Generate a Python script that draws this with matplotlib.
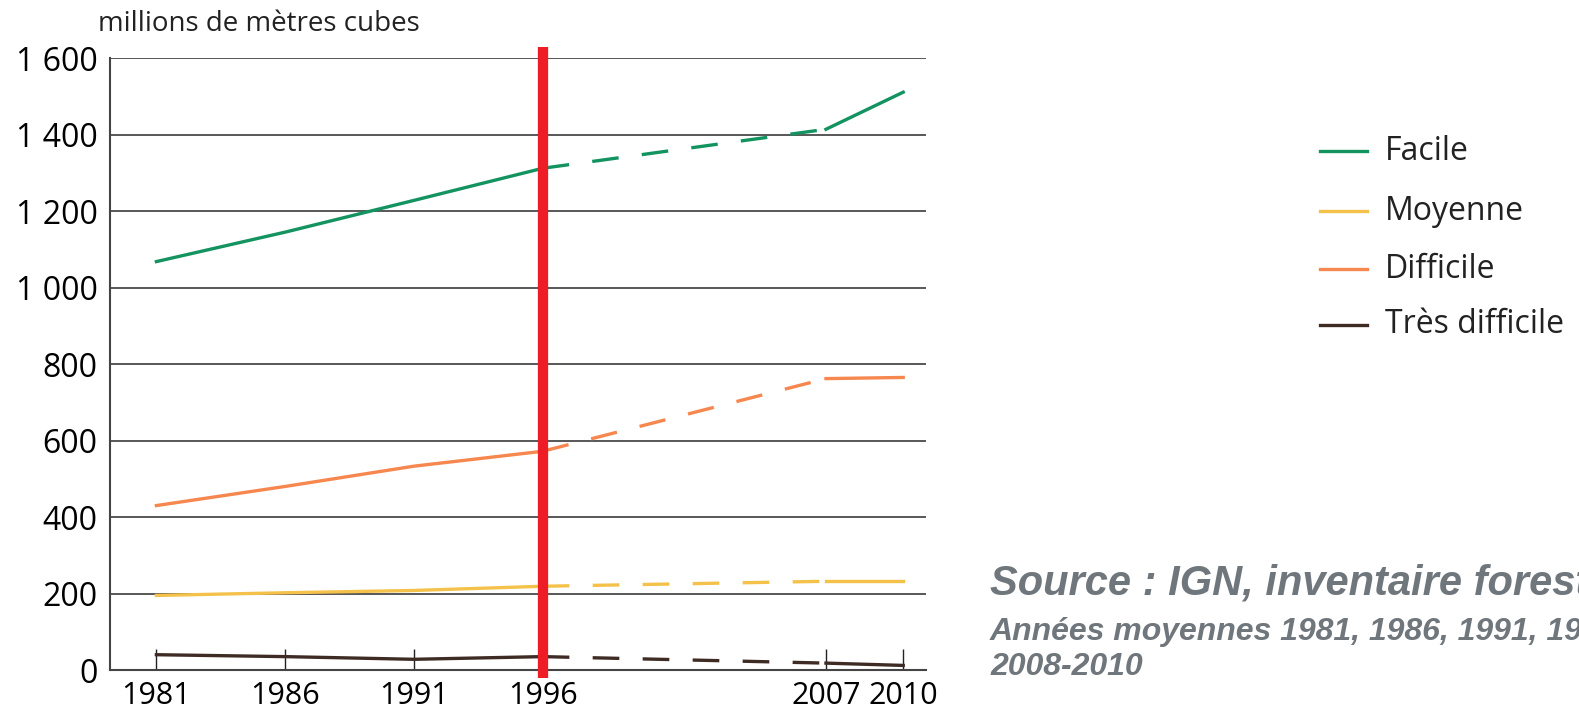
import numpy as np
import matplotlib
matplotlib.use('Agg')
import matplotlib.pyplot as plt
from matplotlib.ticker import FuncFormatter

years = [1981, 1986, 1991, 1996, 2007, 2010]
facile = [1068, 1145, 1228, 1312, 1414, 1511]
moyenne = [195, 202, 208, 219, 232, 232]
difficile = [430, 480, 533, 572, 762, 765]
tres_difficile = [40, 35, 28, 35, 18, 12]

series = [
    ('Facile', facile, '#13935f'),
    ('Moyenne', moyenne, '#f4c24a'),
    ('Difficile', difficile, '#f5874f'),
    ('Très difficile', tres_difficile, '#3e2c24'),
]

plt.rcParams['font.family'] = ['Open Sans', 'DejaVu Sans']

fig = plt.figure(figsize=(15.79, 7.09), dpi=100)
ax = fig.add_axes([0.0697, 0.055, 0.517, 0.863])

# horizontal grid
for v in range(200, 1601, 200):
    ax.axhline(v, color='#2a2a2a', lw=1.1, zorder=1)

# solid up to 1996, dashed 1996-2007, solid again after
for name, vals, col in series:
    x = np.array(years)
    y = np.array(vals)
    ax.plot(x[:4], y[:4], color=col, lw=2.4, zorder=3)
    ax.plot(x[3:5], y[3:5], color=col, lw=2.4, dashes=(8, 7), zorder=3)
    ax.plot(x[4:], y[4:], color=col, lw=2.4, zorder=3)

# red marker at 1996
ax.plot([1996, 1996], [-20, 1628], color='#ee1c25', lw=7.4, clip_on=False, zorder=4,
        solid_capstyle='butt')

ax.set_xlim(1979.2, 2010.9)
ax.set_ylim(0, 1600)
ax.set_xticks(years)
ax.set_yticks(range(0, 1601, 200))
ax.yaxis.set_major_formatter(FuncFormatter(lambda v, p: f"{int(v):,}".replace(',', ' ')))
ax.tick_params(axis='x', direction='in', length=15, width=1, color='#222222',
               labelsize=22, pad=8)
ax.tick_params(axis='y', length=0, labelsize=23, pad=9)
for s in ['top', 'right']:
    ax.spines[s].set_visible(False)
for s in ['left', 'bottom']:
    ax.spines[s].set_color('#444444')
    ax.spines[s].set_linewidth(1.5)

fig.text(0.062, 0.956, 'millions de mètres cubes', fontsize=20, color='#222222')

# legend
leg_y = [0.787, 0.702, 0.620, 0.542]
for (name, vals, col), yy in zip(series, leg_y):
    fig.add_artist(plt.Line2D([0.836, 0.866], [yy, yy], color=col, lw=2.4,
                              transform=fig.transFigure))
    fig.text(0.877, yy, name, fontsize=23, va='center', color='#222222')

grey = '#6f767c'
fig.text(0.627, 0.161, 'Source : IGN, inventaire forestier national', fontsize=30,
         fontweight='bold', fontstyle='italic', color=grey, family='Liberation Sans')
fig.text(0.627, 0.097, 'Années moyennes 1981, 1986, 1991, 1996, 2005-2007,', fontsize=23,
         fontweight='bold', fontstyle='italic', color=grey, family='Liberation Sans')
fig.text(0.627, 0.048, '2008-2010', fontsize=23,
         fontweight='bold', fontstyle='italic', color=grey, family='Liberation Sans')

fig.savefig('out.png', dpi=100)
